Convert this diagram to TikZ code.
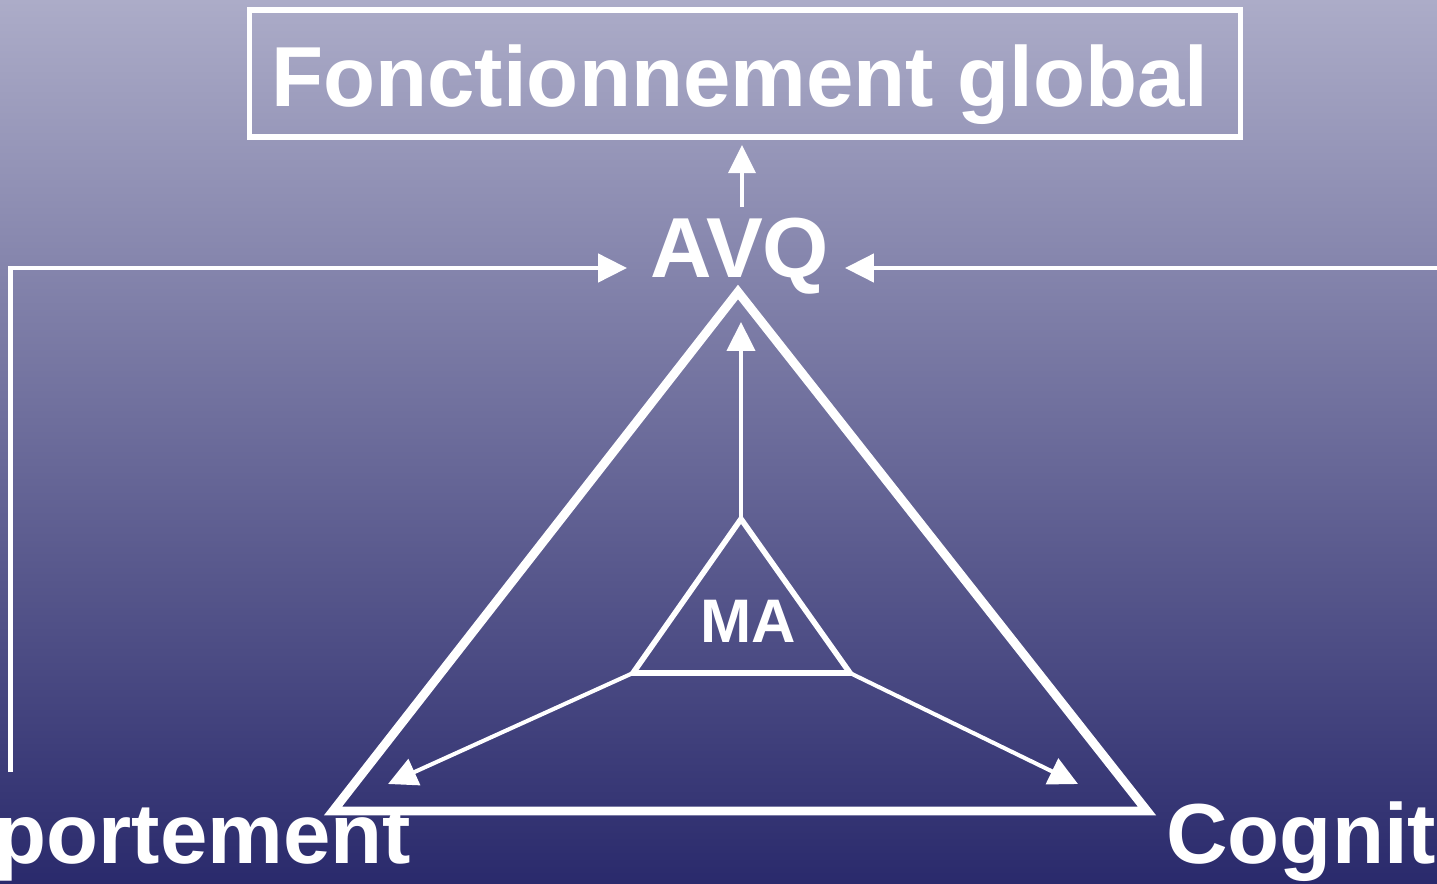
\documentclass[tikz,border=0pt]{standalone}
\usepackage{fontspec}
\setmainfont{Liberation Sans}
\usetikzlibrary{arrows.meta}
\definecolor{bgtop}{RGB}{172,172,200}
\definecolor{bgbot}{RGB}{42,42,108}
\tikzset{
  big/.style={text=white,font=\fontsize{48.5}{50}\selectfont\bfseries,inner sep=0pt},
  small/.style={text=white,font=\fontsize{35}{36}\selectfont\bfseries,inner sep=0pt},
  arr/.style={draw=white,line width=2.3pt,-{Triangle[length=16.5pt,width=16pt]}},
  feed/.style={draw=white,line width=2.5pt,-{Triangle[length=16.5pt,width=16pt]}},
  thin/.style={draw=white,line width=1.8pt,-{Triangle[length=16pt,width=15.5pt]}},
}
\begin{document}
\begin{tikzpicture}[x=0.02cm,y=-0.02cm]
\useasboundingbox (0,0) rectangle (1437,883);
\clip (0,0) rectangle (1437,883);
\shade[top color=bgtop,bottom color=bgbot] (0,0) rectangle (1437,883);
% top box
\node[draw=white,line width=2.9pt,minimum width=19.84cm,minimum height=2.54cm,inner sep=0pt] (fgbox) at (745,73.5) {};
\node[big,anchor=base] (fg) at (740,106) {Fonctionnement global};
% AVQ
\node[big,anchor=base] (avq) at (740,277) {AVQ};
\coordinate (avqtop) at (742,207);
\coordinate (fgin) at (742,145);
\draw[thin] (avqtop) -- (fgin);
% feedback lines
\coordinate (lbot) at (10.5,772);
\coordinate (lcorner) at (10.5,268);
\coordinate (lin) at (627,268);
\coordinate (rstart) at (1437,268);
\coordinate (rin) at (845,268);
\draw[feed] (lbot) -- (lcorner) -- (lin);
\draw[feed] (rstart) -- (rin);
% big triangle
\coordinate (T) at (738,292);
\coordinate (L) at (333,811);
\coordinate (R) at (1147,811);
\draw[white,line width=5.1pt,miter limit=10] (T) -- (L) -- (R) -- cycle;
% small triangle
\coordinate (t) at (741,519);
\coordinate (l) at (633,673);
\coordinate (r) at (850,673);
\draw[white,line width=3.2pt,miter limit=10] (t) -- (l) -- (r) -- cycle;
\node[small,anchor=base] (ma) at (748,642) {MA};
% arrows out of small triangle
\coordinate (up) at (741,322);
\coordinate (dl) at (388,784);
\coordinate (dr) at (1078,784);
\draw[arr] (t) -- (up);
\draw[arr] (l) -- (dl);
\draw[arr] (r) -- (dr);
% bottom labels (clipped at the edges)
\node[big,anchor=base west] (comp) at (-6,863) {portement};
\node[big,anchor=base west] (cog) at (1166,863) {Cognit};
\end{tikzpicture}
\end{document}
